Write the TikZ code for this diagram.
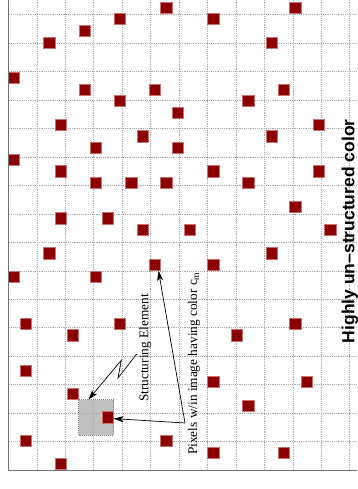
\documentclass[tikz,border=0pt]{standalone}
\usepackage{fontspec}
\setmainfont{Liberation Serif}
\newfontfamily\hsans{Liberation Sans}
\usetikzlibrary{arrows.meta}
\definecolor{sqred}{RGB}{139,0,0}
\definecolor{sqedge}{RGB}{205,110,110}
\definecolor{gridgray}{RGB}{170,170,170}
\definecolor{boxgray}{RGB}{192,192,192}
\definecolor{framegray}{RGB}{115,115,115}
\begin{document}
\begin{tikzpicture}[x=1pt,y=1pt,
 gridline/.style={gridgray, line width=0.5pt, dash pattern=on 1.2pt off 1pt},
 sq/.style={fill=sqred, draw=sqedge, line width=0.6pt, minimum size=11.2pt, inner sep=0pt, outer sep=0pt},
 lbl/.style={rotate=90, anchor=base west, inner sep=0pt, font=\fontsize{13.3}{15}\selectfont},
 arr/.style={line width=0.7pt, -{Stealth[length=10pt,width=6pt,inset=2.5pt]}},
]
\useasboundingbox (0,0) rectangle (357,489);
\fill[white] (0,0) rectangle (357,489);
\begin{scope}[shift={(8.3,19)}, x=11.71pt, y=11.71pt]
 \fill[boxgray] (6,3) rectangle (9,6);
 \draw[gridline] (0,0) grid (30,41);
 \draw[gray, line width=0.5pt, dash pattern=on 1pt off 1pt] (6,3) rectangle (9,6);
 \coordinate (box-nw) at (6,6);
 \foreach \c/\t in {13/0, 9/1, 6/2, 3/3, 0/6, 6/7, 12/7, 9/8, 14/9, 4/10, 11/11, 7/12, 14/12, 0/13,
   24/0, 17/1, 22/3, 23/7, 20/8, 26/10, 22/11, 4/14, 7/15, 10/15, 13/15, 4/18, 8/18, 11/19,
   3/21, 12/22, 0/23, 7/23, 1/27, 9/27, 17/14, 26/14, 20/15, 24/17, 15/19, 27/19, 22/21,
   17/22, 24/27, 5/28, 1/31, 5/33, 8/35, 1/37, 13/37, 4/39, 19/28, 17/32, 25/32, 20/34,
   17/38, 23/38}
 { \node[sq] (sq-\c-\t) at (\c+0.5, 39.5-\t) {}; }
\end{scope}
\draw[framegray, line width=0.9pt] (8.3,489) -- (8.3,19) -- (357,19);
% labels
\node[lbl] (se) at (148.3,87) {Structuring Element};
\node[lbl] (pix) at (197,34) {Pixels w/in image having color c\raisebox{-2pt}{\fontsize{9.5}{10}\selectfont m}};
\node[lbl, font=\hsans\bfseries\fontsize{17.5}{20}\selectfont] (hl) at (354.3,145.7) {Highly un–structured color};
% zigzag arrow
\coordinate (z0) at (136.7,135);
\coordinate (z1) at (118,111);
\coordinate (z2) at (121.3,128.7);
\coordinate (boxtip) at ([xshift=9.7pt]box-nw);
\draw[arr] (z0) -- (z1) -- (z2) -- (boxtip);
% pixel arrows
\coordinate (pv) at (185,66);
\draw[arr] (pv) -- ([yshift=-1.3pt]sq-8-35.east);
\draw[arr] (pv) -- ([xshift=3.8pt]sq-12-22.south);
\end{tikzpicture}
\end{document}
